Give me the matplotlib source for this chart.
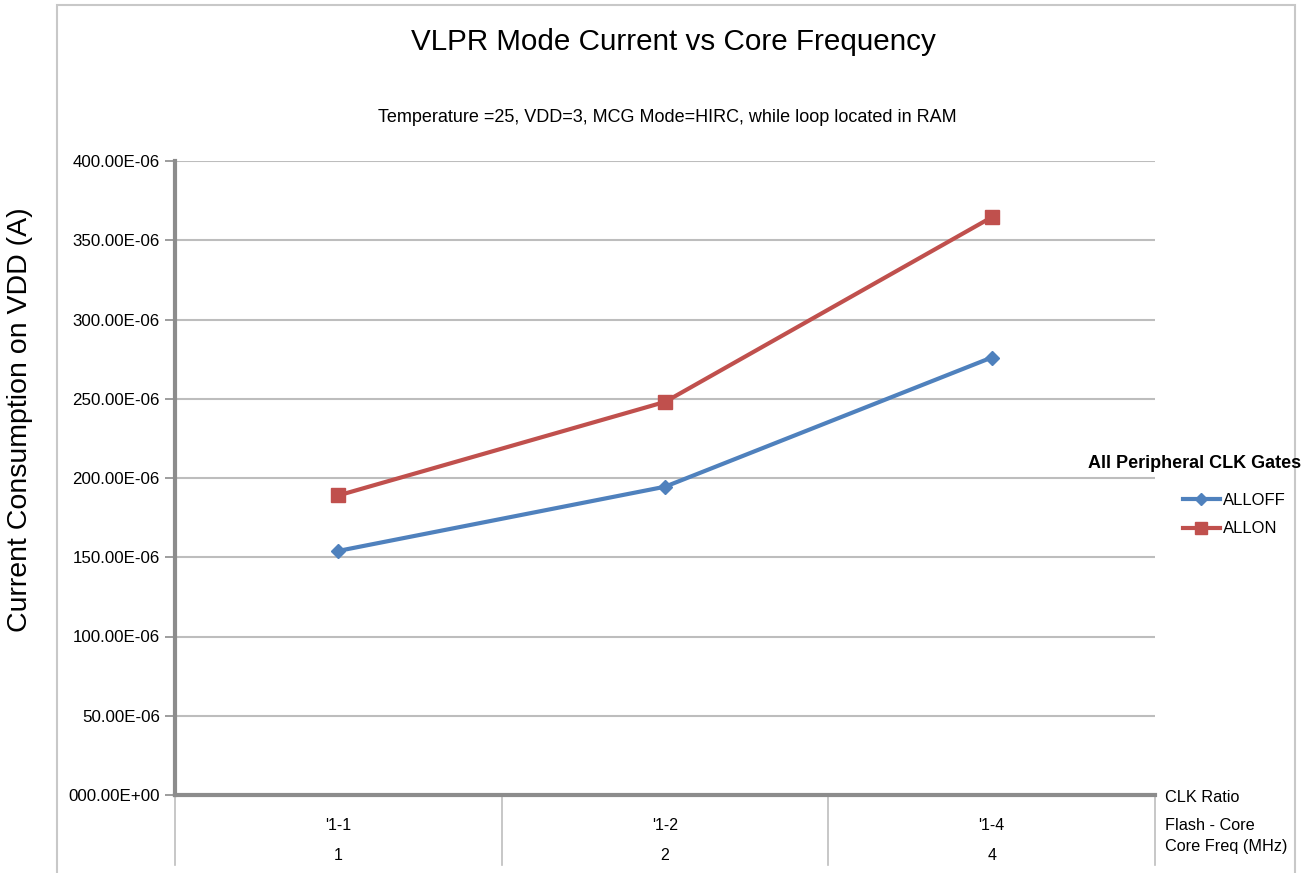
import numpy as np
import matplotlib
matplotlib.use("Agg")
import matplotlib.pyplot as plt
from matplotlib.patches import Rectangle
from matplotlib.lines import Line2D

plt.rcParams['font.family'] = ['Liberation Sans', 'DejaVu Sans']

# data
clk_ratio = ["'1-1", "'1-2", "'1-4"]
core_freq = ["1", "2", "4"]
alloff = [154e-6, 194.5e-6, 276e-6]
allon = [189e-6, 248e-6, 364.5e-6]
yticks = [0, 50e-6, 100e-6, 150e-6, 200e-6, 250e-6, 300e-6, 350e-6, 400e-6]
ytick_labels = ["000.00E+00", "50.00E-06", "100.00E-06", "150.00E-06", "200.00E-06",
                "250.00E-06", "300.00E-06", "350.00E-06", "400.00E-06"]
row_titles = ["CLK Ratio", "Flash - Core", "Core Freq (MHz)"]

W, H = 1310, 873
fig = plt.figure(figsize=(W / 100, H / 100), dpi=100)

# outer chart frame
fig.patches.append(Rectangle((57 / W, -0.05), (1295 - 57) / W, 1.05 - 5 / H,
                             transform=fig.transFigure, fill=False,
                             edgecolor='#c8c8c8', linewidth=1.5))

ax = fig.add_axes([175 / W, (H - 795) / H, (1155 - 175) / W, (795 - 161) / H])
x = np.arange(len(clk_ratio))

ax.plot(x, alloff, color='#4F81BD', marker='D', markersize=7, linewidth=3,
        label='ALLOFF', zorder=3)
ax.plot(x, allon, color='#C0504D', marker='s', markersize=10, linewidth=3,
        label='ALLON', zorder=3)

ax.set_xlim(-0.5, 2.5)
ax.set_ylim(0, 400e-6)
ax.set_yticks(yticks)
ax.set_yticklabels(ytick_labels, fontsize=12.2)
ax.set_xticks([])
ax.yaxis.grid(True, color='#bdbdbd', linewidth=1.5)
ax.set_axisbelow(True)
ax.tick_params(axis='y', length=7, width=1.2, color='#8c8c8c', pad=4)

for s in ['top', 'right']:
    ax.spines[s].set_visible(False)
for s in ['left', 'bottom']:
    ax.spines[s].set_color('#8c8c8c')
    ax.spines[s].set_linewidth(3)

fig.text(20 / W, 1 - 420 / H, 'Current Consumption on VDD (A)', rotation=90,
         ha='center', va='center', fontsize=20.5)

# multi-level category axis
sep_h = (865 - 795) / (795 - 161)
for xs in [-0.5, 0.5, 1.5, 2.5]:
    ax.plot([xs, xs], [0, -sep_h], transform=ax.get_xaxis_transform(),
            color='#bdbdbd', linewidth=1.2, clip_on=False)
row1 = -(826 - 795) / (795 - 161)
row2 = -(855 - 795) / (795 - 161)
for i in x:
    ax.text(i, row1, clk_ratio[i], transform=ax.get_xaxis_transform(),
            ha='center', va='center', fontsize=11.5)
    ax.text(i, row2, core_freq[i], transform=ax.get_xaxis_transform(),
            ha='center', va='center', fontsize=11.5)
for txt, yp in zip(row_titles, [797, 826, 846]):
    fig.text(1165 / W, 1 - yp / H, txt, ha='left', va='center', fontsize=11.7)

fig.text(673 / W, 1 - 42 / H, 'VLPR Mode Current vs Core Frequency',
         ha='center', va='center', fontsize=21.3)
fig.text(667 / W, 1 - 118 / H,
         'Temperature =25, VDD=3, MCG Mode=HIRC, while loop located in RAM',
         ha='center', va='center', fontsize=13)

# legend
fig.text(1195 / W, 1 - 463 / H, 'All Peripheral CLK Gates', ha='center',
         va='center', fontsize=13, fontweight='semibold')
handles = [Line2D([], [], color='#4F81BD', marker='D', markersize=6, linewidth=3),
           Line2D([], [], color='#C0504D', marker='s', markersize=8, linewidth=3)]
fig.legend(handles, ['ALLOFF', 'ALLON'], loc='upper left',
           bbox_to_anchor=(1168 / W, 1 - 478 / H), frameon=False, fontsize=12,
           handlelength=2.2, handletextpad=0.2, labelspacing=0.8)

fig.savefig('out.png', dpi=100)
